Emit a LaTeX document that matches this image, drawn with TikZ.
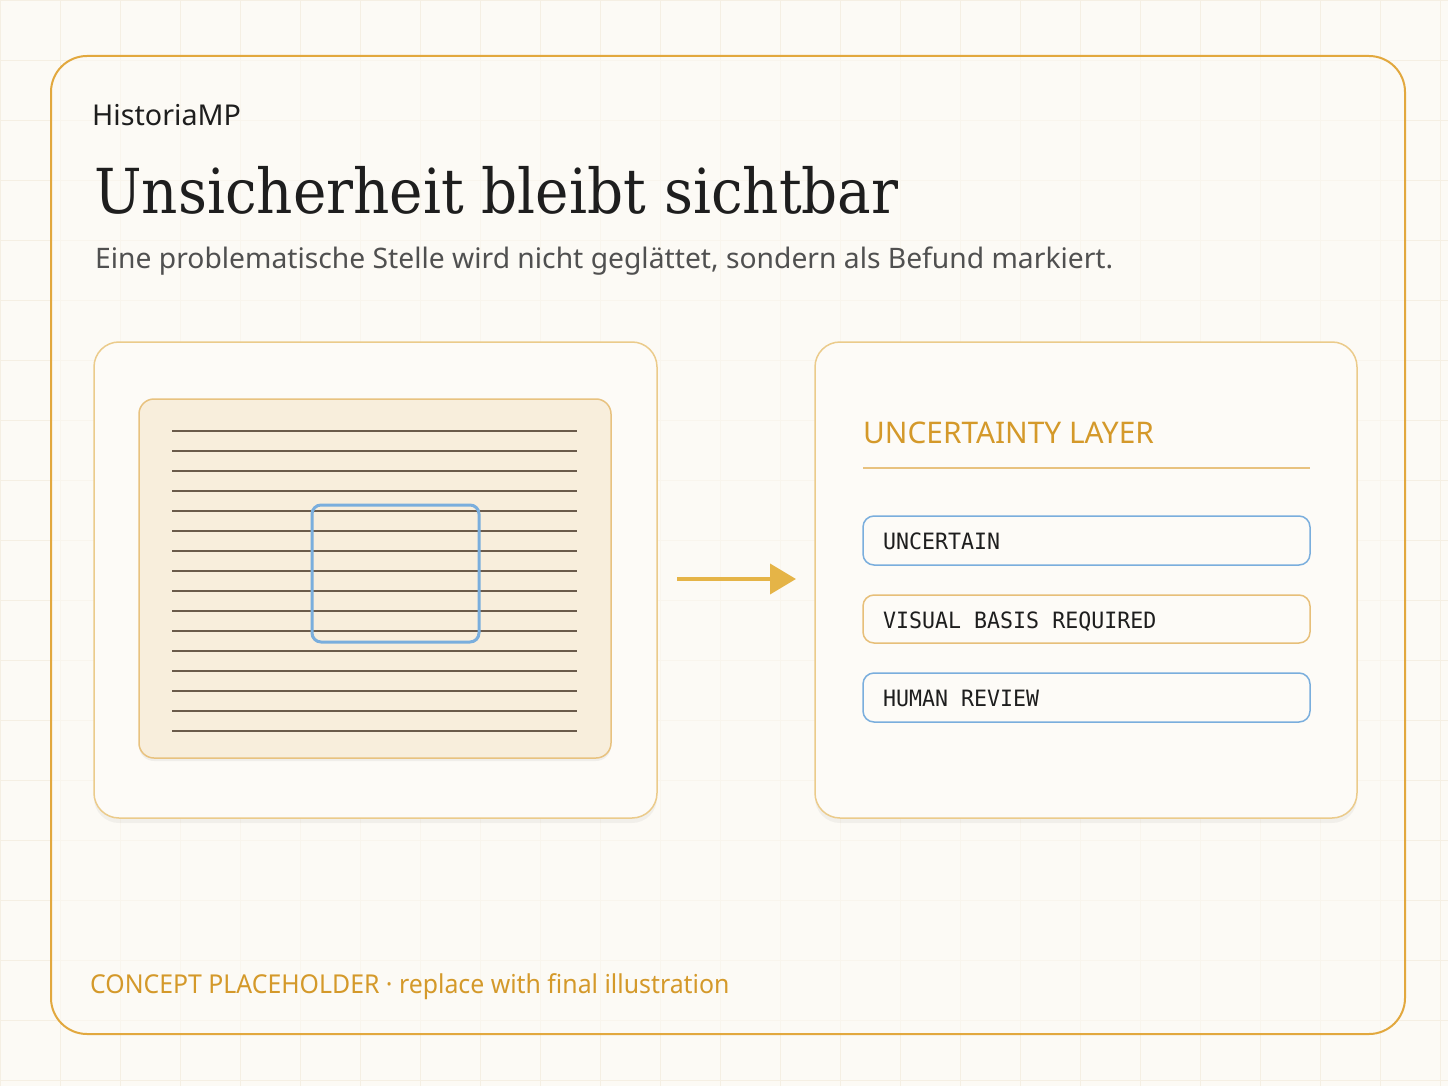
\documentclass[tikz,border=0pt]{standalone}
\usepackage{fontspec}
\usetikzlibrary{shadows,arrows.meta}
\newfontfamily\titlefont[FakeStretch=0.91]{DejaVu Serif}
\newfontfamily\uifont{Noto Sans}
\newfontfamily\footfont[FakeStretch=0.955]{Noto Sans}
\newfontfamily\monofont[FakeStretch=0.96]{DejaVu Sans Mono}
\definecolor{bg}{HTML}{FCFAF5}
\definecolor{gridc}{HTML}{F5EFE3}
\definecolor{gold}{HTML}{E2A83E}
\definecolor{goldtext}{HTML}{D4992A}
\definecolor{panelborder}{HTML}{EBCB8B}
\definecolor{panelfill}{HTML}{FDFBF7}
\definecolor{paper}{HTML}{F8EEDC}
\definecolor{paperborder}{HTML}{E8C27F}
\definecolor{rulec}{HTML}{6B5B4B}
\definecolor{blueb}{HTML}{7AAEDD}
\definecolor{arrowc}{HTML}{E5B447}
\definecolor{subgray}{HTML}{505050}
\definecolor{ink}{HTML}{1E1E1E}
\begin{document}
\begin{tikzpicture}[x=1pt,y=-1pt,
  panel/.style={draw=panelborder,line width=1.5pt,fill=panelfill,rounded corners=25pt,
    drop shadow={shadow xshift=0pt,shadow yshift=-5pt,opacity=0.045,fill=black}},
  tagbox/.style={line width=1.5pt,fill=panelfill,rounded corners=11pt},
  tagtext/.style={font=\monofont\fontsize{22.5}{22.5}\selectfont,text=ink,anchor=base west,inner sep=0pt},
  textline/.style={draw=rulec,line width=1.6pt}
]
\useasboundingbox (0,0) rectangle (1448,1086);
\fill[bg] (0,0) rectangle (1448,1086);
\draw[gridc,line width=0.8pt] (0,0) grid[step=60pt] (1448,1086);
% main frame
\draw[gold,line width=2pt,rounded corners=36pt,fill=bg,fill opacity=0.6] (51,56) rectangle (1405,1034);
% texts
\node[anchor=base west,inner sep=0pt,font=\uifont\fontsize{28.7}{28.7}\selectfont,text=ink] (brand) at (92,126) {HistoriaMP};
\node[anchor=base west,inner sep=0pt,font=\titlefont\fontsize{62}{62}\selectfont,text=ink] (title) at (94,214) {Unsicherheit bleibt sichtbar};
\node[anchor=base west,inner sep=0pt,font=\uifont\fontsize{28.25}{28.25}\selectfont,text=subgray] (sub) at (95,268) {Eine problematische Stelle wird nicht geglättet, sondern als Befund markiert.};
% left panel
\draw[panel] (94,342) rectangle (657,818);
\draw[paperborder,line width=1.5pt,fill=paper,rounded corners=15pt,
  drop shadow={shadow xshift=0pt,shadow yshift=-3pt,opacity=0.05,fill=black}] (139,399) rectangle (611,758);
\foreach \i in {0,...,15} {
  \draw[textline] (172,431+20*\i) -- (577,431+20*\i);
}
\draw[blueb,line width=3pt,rounded corners=9pt] (312,505) rectangle (479,642);
% right panel
\draw[panel] (815,342) rectangle (1357,818);
\node[anchor=base west,inner sep=0pt,font=\uifont\fontsize{29.8}{29.8}\selectfont,text=goldtext] (layer) at (863,443) {UNCERTAINTY LAYER};
\draw[paperborder,line width=1.5pt] (863,468) -- (1310,468);
\draw[tagbox,draw=blueb] (863,516) rectangle (1310,565);
\node[tagtext] (t1) at (883,549) {UNCERTAIN};
\draw[tagbox,draw=paperborder!90!gold] (863,595) rectangle (1310,643);
\node[tagtext] (t2) at (883,628) {VISUAL BASIS REQUIRED};
\draw[tagbox,draw=blueb] (863,673) rectangle (1310,722);
\node[tagtext] (t3) at (883,706) {HUMAN REVIEW};
% arrow
\coordinate (as) at (677,579);
\coordinate (ae) at (796,579);
\draw[arrowc,line width=4pt,-{Triangle[length=26pt,width=30pt]}] (as) -- (ae);
% footer
\node[anchor=base west,inner sep=0pt,font=\footfont\fontsize{26}{26}\selectfont,text=goldtext] (foot) at (90,993) {CONCEPT PLACEHOLDER · replace with final illustration};
\end{tikzpicture}
\end{document}
